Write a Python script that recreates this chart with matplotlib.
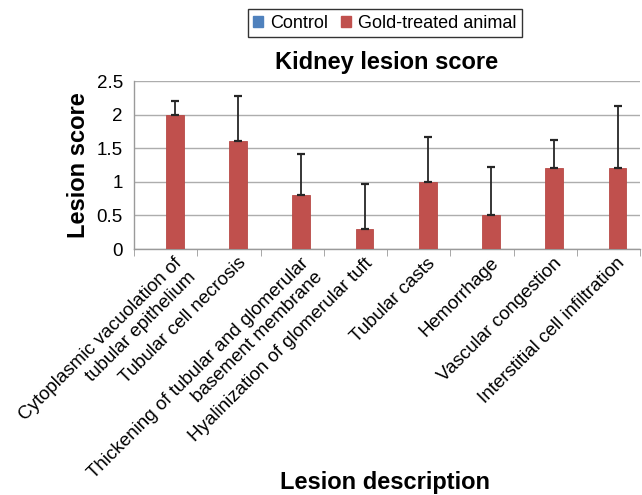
import numpy as np
import matplotlib
matplotlib.use("Agg")
import matplotlib.pyplot as plt
import matplotlib.patches as patches

plt.rcParams['font.family'] = ['Liberation Sans', 'DejaVu Sans']

# data
lesions = ["Cytoplasmic vacuolation of\ntubular epithelium",
           "Tubular cell necrosis",
           "Thickening of tubular and glomerular\nbasement membrane",
           "Hyalinization of glomerular tuft",
           "Tubular casts",
           "Hemorrhage",
           "Vascular congestion",
           "Interstitial cell infiltration"]
control = [0, 0, 0, 0, 0, 0, 0, 0]
gold = [2.0, 1.6, 0.8, 0.3, 1.0, 0.5, 1.2, 1.2]
gold_err = [0.2, 0.68, 0.62, 0.67, 0.67, 0.72, 0.42, 0.93]

red = "#C0504D"
blue = "#4F81BD"

fig = plt.figure(figsize=(6.42, 4.95), dpi=100)
ax = fig.add_axes([134/642, 1-249/495, (640-134)/642, (249-81)/495])

x = np.arange(len(lesions))
w = 0.28
ax.bar(x, control, w, color=blue, align='edge', zorder=3)
ax.bar(x + 0.005, gold, w, color=red, edgecolor="#B84A47", linewidth=0.6,
       align='edge', zorder=3)
ax.errorbar(x + 0.005 + w/2, gold, yerr=[np.zeros(len(gold)), gold_err],
            fmt='none', ecolor='#262626', elinewidth=1.3, capsize=3.2,
            capthick=1.6, zorder=4)

ax.set_xlim(-0.5, len(lesions) - 0.5)
ax.set_ylim(0, 2.5)
ax.set_yticks(np.arange(0, 2.51, 0.5))
ax.set_yticklabels(["0", "0.5", "1", "1.5", "2", "2.5"], fontsize=13.5)
ax.yaxis.grid(True, color="#ADADAD", linewidth=1.0, zorder=0)
ax.tick_params(axis='y', length=0, pad=8)

# labels anchored a little right of each category centre, as in the reference
ax.set_xticks(x + 0.13)
ax.set_xticklabels(lesions, fontsize=13.5)
for lab in ax.get_xticklabels():
    lab.set_rotation(45)
    lab.set_rotation_mode('anchor')
    lab.set_horizontalalignment('right')
    lab.set_verticalalignment('top')
    lab.set_multialignment('right')
ax.set_xticks(np.arange(len(lesions) + 1) - 0.5, minor=True)
ax.tick_params(axis='x', which='major', length=0, pad=4)
ax.tick_params(axis='x', which='minor', length=5, color="#9A9A9A")

for s in ['top', 'right']:
    ax.spines[s].set_visible(False)
for s in ['left', 'bottom']:
    ax.spines[s].set_color("#9A9A9A")
    ax.spines[s].set_linewidth(1.0)

ax.set_title("Kidney lesion score", fontsize=17, fontweight='bold', pad=9)
ax.set_ylabel("Lesion score", fontsize=17, fontweight='bold', labelpad=5)
fig.text(385/642, 1-482/495, "Lesion description", fontsize=17,
         fontweight='bold', ha='center', va='center')

handles = [patches.Patch(color=blue, label="Control"),
           patches.Patch(color=red, label="Gold-treated animal")]
leg = fig.legend(handles=handles, loc='center', bbox_to_anchor=(385/642, 1-23/495),
                 ncol=2, fontsize=13, frameon=True, fancybox=False,
                 handlelength=0.55, handleheight=0.55, handletextpad=0.4,
                 columnspacing=0.7, borderpad=0.3, borderaxespad=0)
leg.get_frame().set_edgecolor("black")
leg.get_frame().set_linewidth(1.0)

fig.savefig("out.png", dpi=100)
